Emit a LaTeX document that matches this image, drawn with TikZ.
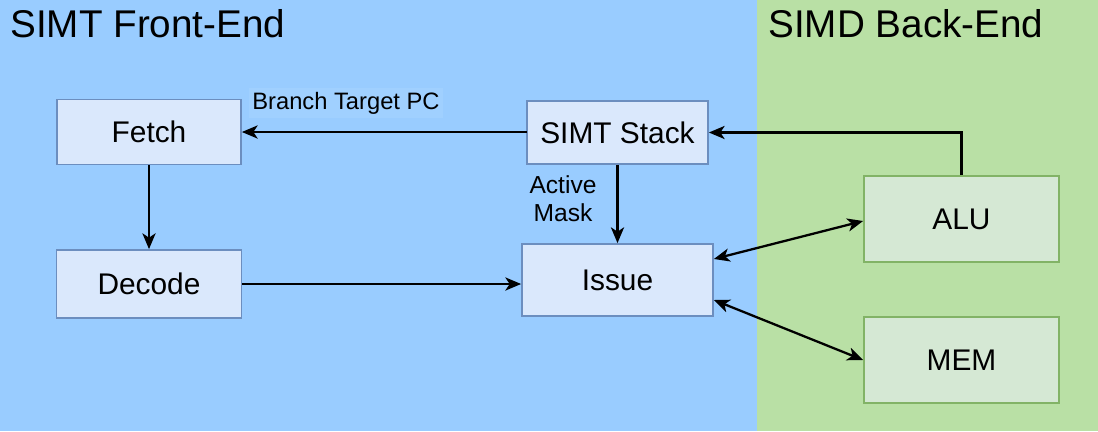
\documentclass[tikz,border=0pt]{standalone}
\usepackage{fontspec}
\setmainfont{Liberation Sans}
\usepackage{tikz}
\usetikzlibrary{arrows.meta,positioning,calc}
\definecolor{frontbg}{HTML}{99CCFF}
\definecolor{backbg}{HTML}{B9E0A5}
\definecolor{fefill}{HTML}{DAE8FC}
\definecolor{feedge}{HTML}{6C8EBF}
\definecolor{befill}{HTML}{D5E8D4}
\definecolor{beedge}{HTML}{82B366}
\begin{document}
\begin{tikzpicture}[
  >={Stealth[length=9pt,width=7.5pt,inset=2.5pt]},
  font=\fontsize{17}{20}\selectfont,
  fe/.style={draw=feedge, fill=fefill, line width=1pt, inner sep=0pt},
  be/.style={draw=beedge, fill=befill, line width=1pt, inner sep=0pt, minimum width=3.9cm, minimum height=1.72cm},
  hdr/.style={font=\fontsize{22}{26}\selectfont, anchor=base west, inner sep=0pt},
  lbl/.style={font=\fontsize{13.5}{16}\selectfont, align=center},
  arr/.style={->, line width=1.3pt, color=black}
]
\useasboundingbox (0,0) rectangle (21.96,8.62);
% Regions
\fill[frontbg] (0,0) rectangle (15.14,8.62);
\fill[backbg] (15.14,0) rectangle (21.96,8.62);
\node[hdr] (hfront) at (0.2,7.88) {SIMT Front-End};
\node[hdr] (hback) at (15.36,7.88) {SIMD Back-End};
% Front-end units
\node[fe, minimum width=3.68cm, minimum height=1.3cm] (fetch) at (2.98,5.98) {Fetch};
\node[fe, minimum width=3.7cm, minimum height=1.36cm] (dec) at (2.98,2.94) {Decode};
\node[fe, minimum width=3.62cm, minimum height=1.26cm] (stk) at (12.35,5.97) {SIMT Stack};
\node[fe, minimum width=3.82cm, minimum height=1.44cm] (iss) at (12.35,3.02) {Issue};
% Back-end units
\node[be] (alu) at (19.23,4.24) {ALU};
\node[be] (mem) at (19.23,1.42) {MEM};
% arrows
\draw[arr] (stk.west) -- (fetch.east -| stk.west) -- (fetch.east);
\draw[arr] (fetch) -- (dec);
\draw[arr] (dec.east) -- (dec.east -| iss.west);
\draw[arr] (stk) -- (iss);
\draw[arr] (alu.north) |- (stk.east);
\draw[arr,<->] ([yshift=0.42cm]iss.east) -- ([yshift=-0.04cm]alu.west);
\draw[arr,<->] ([yshift=-0.4cm]iss.east) -- (mem.west);
% labels
\node[lbl, fill=frontbg!93!white, inner sep=2pt] (brlbl) at (6.92,6.56) {Branch Target PC};
\node[lbl, font=\fontsize{14}{16}\selectfont] (masklbl) at (11.26,4.64) {Active\\Mask};
\end{tikzpicture}
\end{document}
